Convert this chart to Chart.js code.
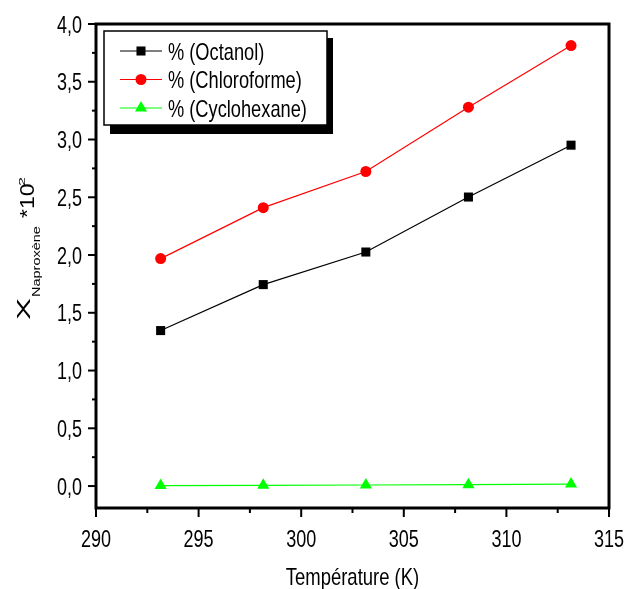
<!DOCTYPE html>
<html>
<head>
<meta charset="utf-8">
<script src="https://cdn.jsdelivr.net/npm/chart.js@4"></script>
<style>
    html, body { margin: 0; padding: 0; background: #fff; }
    #wrap { width: 627px; height: 589px; }
</style>
</head>
<body>
<div id="wrap"><canvas id="solubilityChart" width="627" height="589"></canvas></div>
<script>
// _+_+_+_+_ DATA _+_+_+_+_
const temperatures = [293.15, 298.15, 303.15, 308.15, 313.15];
const octanol = [1.346, 1.744, 2.026, 2.502, 2.951];
const chloroforme = [1.969, 2.41, 2.723, 3.28, 3.813];
const cyclohexane = [0.004, 0.006, 0.009, 0.012, 0.017];

const seriesLabels = ['% (Octanol)', '% (Chloroforme)', '% (Cyclohexane)'];
const xTickValues = [290, 295, 300, 305, 310, 315];
const yTickValues = [0, 0.5, 1, 1.5, 2, 2.5, 3, 3.5, 4];
const xTitle = 'Température (K)';

// no narrow font installed, so text is squeezed by hand
const plainFont = "'Liberation Sans', Arial, sans-serif";

function toPoints(values) {
    return temperatures.map((t, i) => ({ x: t, y: values[i] }));
}

function commaLabel(v) {
    return v.toFixed(1).replace('.', ',');
}

function squeezedText(ctx, text, x, y, align, size, sx) {
    ctx.save();
    ctx.translate(x, y);
    ctx.scale(sx, 1);
    ctx.font = size + 'px ' + plainFont;
    ctx.textAlign = align;
    ctx.textBaseline = 'alphabetic';
    ctx.fillText(text, 0, 0);
    ctx.restore();
}

// rotated text, k squeezes the glyph height
function rotatedText(ctx, text, x, y, size, k) {
    ctx.save();
    ctx.translate(x, y);
    ctx.rotate(-Math.PI / 2);
    ctx.scale(1, k);
    ctx.font = size + 'px ' + plainFont;
    ctx.textAlign = 'left';
    ctx.textBaseline = 'alphabetic';
    ctx.fillText(text, 0, 0);
    ctx.restore();
}

// frame, ticks (major + minor), tick labels, titles, legend box
const decorPlugin = {
    id: 'decor',
    afterDraw(chart) {
        const ctx = chart.ctx;
        const area = chart.chartArea;
        const xs = chart.scales.x;
        const ys = chart.scales.y;

        ctx.save();
        ctx.strokeStyle = '#000';
        ctx.fillStyle = '#000';

        // ticks + labels
        ctx.lineWidth = 2;
        const xMajor = xs.ticks.map(t => t.value);
        const yMajor = ys.ticks.map(t => t.value);
        xMajor.forEach((v, i) => {
            const px = xs.getPixelForValue(v);
            ctx.beginPath(); ctx.moveTo(px, area.bottom); ctx.lineTo(px, area.bottom + 9); ctx.stroke();
            if (i < xMajor.length - 1) {
                const mx = xs.getPixelForValue((v + xMajor[i + 1]) / 2);
                ctx.beginPath(); ctx.moveTo(mx, area.bottom); ctx.lineTo(mx, area.bottom + 5); ctx.stroke();
            }
            squeezedText(ctx, String(v), px, area.bottom + 39, 'center', 24, 0.75);
        });
        yMajor.forEach((v, i) => {
            const py = ys.getPixelForValue(v);
            ctx.beginPath(); ctx.moveTo(area.left, py); ctx.lineTo(area.left - 8, py); ctx.stroke();
            if (i < yMajor.length - 1) {
                const my = ys.getPixelForValue((v + yMajor[i + 1]) / 2);
                ctx.beginPath(); ctx.moveTo(area.left, my); ctx.lineTo(area.left - 4, my); ctx.stroke();
            }
            squeezedText(ctx, commaLabel(v), area.left - 14, py + 8.5, 'right', 24, 0.75);
        });

        // x title
        squeezedText(ctx, xTitle, (area.left + area.right) / 2, 585, 'center', 24, 0.77);

        // frame
        ctx.lineWidth = 3;
        ctx.strokeRect(area.left, area.top, area.right - area.left, area.bottom - area.top);

        // legend with shadow
        const lx = 104, ly = 31, lw = 223, lh = 94;
        ctx.fillStyle = '#000';
        ctx.fillRect(lx + 6, ly + 7, lw, lh + 2);
        ctx.fillStyle = '#fff';
        ctx.fillRect(lx, ly, lw, lh);
        ctx.lineWidth = 1.5;
        ctx.strokeRect(lx, ly, lw, lh);

        chart.data.datasets.forEach((ds, i) => {
            const cy = 51 + i * 28.5;
            ctx.strokeStyle = ds.borderColor;
            ctx.lineWidth = 1.2;
            ctx.beginPath(); ctx.moveTo(120, cy); ctx.lineTo(162, cy); ctx.stroke();
            ctx.fillStyle = ds.backgroundColor;
            Chart.helpers.drawPoint(ctx, { pointStyle: ds.pointStyle, radius: ds.pointRadius, borderWidth: 0 }, 141, cy);
            ctx.fillStyle = '#000';
            squeezedText(ctx, ds.label, 168, cy + 8.5, 'left', 24, 0.76);
        });

        // y title: X_Naproxène *10^2
        ctx.fillStyle = '#000';
        rotatedText(ctx, 'X', 30, 320, 33, 0.57);
        rotatedText(ctx, 'Naproxène', 40, 297, 14.5, 0.75);
        rotatedText(ctx, '*10', 34, 218, 23, 0.9);
        rotatedText(ctx, '2', 25, 186, 16, 0.6);

        ctx.restore();
    }
};

const chartCanvas = document.getElementById('solubilityChart');

new Chart(chartCanvas, {
    type: 'line',
    data: {
        datasets: [
            {
                label: seriesLabels[0],
                data: toPoints(octanol),
                borderColor: '#000000',
                backgroundColor: '#000000',
                borderWidth: 1.2,
                pointStyle: 'rect',
                pointRadius: 6.4,
                pointBorderWidth: 0
            },
            {
                label: seriesLabels[1],
                data: toPoints(chloroforme),
                borderColor: '#ff0000',
                backgroundColor: '#ff0000',
                borderWidth: 1.2,
                pointStyle: 'circle',
                pointRadius: 5.5,
                pointBorderWidth: 0
            },
            {
                label: seriesLabels[2],
                data: toPoints(cyclohexane),
                borderColor: '#00ff00',
                backgroundColor: '#00ff00',
                borderWidth: 1.2,
                pointStyle: 'triangle',
                pointRadius: 7,
                pointBorderWidth: 0
            }
        ]
    },
    options: {
        responsive: false,
        animation: false,
        layout: { padding: { left: 0, top: 24, right: 18, bottom: 0 } },
        plugins: {
            legend: { display: false },
            tooltip: { enabled: false }
        },
        scales: {
            x: {
                type: 'linear',
                min: 290,
                max: 315,
                afterBuildTicks: (scale) => { scale.ticks = xTickValues.map(v => ({ value: v })); },
                afterFit: (scale) => { scale.height = 81; },
                grid: { display: false, drawTicks: false },
                border: { display: false },
                ticks: { display: false }
            },
            y: {
                type: 'linear',
                min: -0.19,
                max: 4.0,
                afterBuildTicks: (scale) => { scale.ticks = yTickValues.map(v => ({ value: v })); },
                afterFit: (scale) => { scale.width = 96; },
                grid: { display: false, drawTicks: false },
                border: { display: false },
                ticks: { display: false }
            }
        }
    },
    plugins: [decorPlugin]
});
</script>
</body>
</html>
